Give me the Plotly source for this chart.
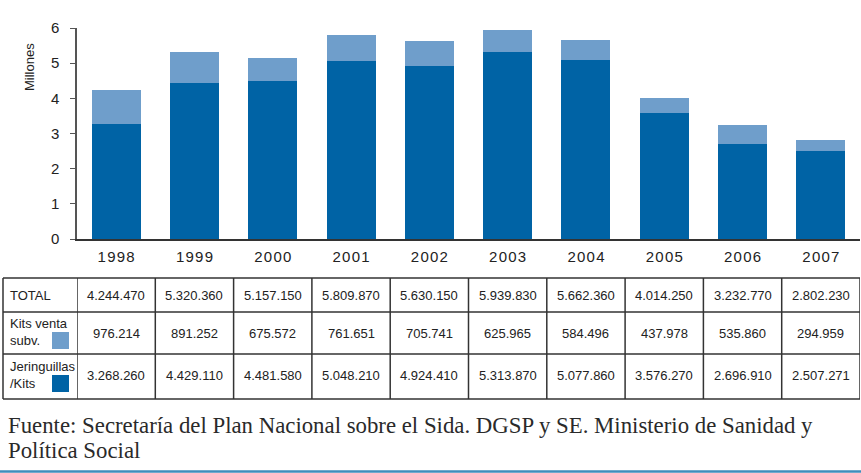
import plotly.graph_objects as go

# Distribución de jeringuillas / kits (millones) por año
years = ["1998", "1999", "2000", "2001", "2002", "2003", "2004", "2005", "2006", "2007"]
total = [4244470, 5320360, 5157150, 5809870, 5630150, 5939830, 5662360, 4014250, 3232770, 2802230]
kits_venta = [976214, 891252, 675572, 761651, 705741, 625965, 584496, 437978, 535860, 294959]
jeringuillas = [3268260, 4429110, 4481580, 5048210, 4924410, 5313870, 5077860, 3576270, 2696910, 2507271]

row_labels = ["TOTAL", "Kits venta<br>subv.", "Jeringuillas<br>/Kits"]
y_ticks = [0, 1, 2, 3, 4, 5, 6]
source_lines = ["Fuente: Secretaría del Plan Nacional sobre el Sida. DGSP y SE. Ministerio de Sanidad y",
                "Política Social"]

W, H = 861, 473
DARK = "#0063a5"
LIGHT = "#6f9ecb"
INK = "#222222"
SANS = "Liberation Sans, Arial, sans-serif"
SERIF = "Liberation Serif, Times New Roman, serif"


def px(x):
    return x / W


def py(y):
    return (H - y) / H


def es_num(v):
    return f"{v:,}".replace(",", ".")


def spaced(s):
    return "\u200a".join(s)


idx = list(range(len(years)))

fig = go.Figure()
fig.add_bar(x=idx, y=[v / 1e6 for v in jeringuillas], marker_color=DARK,
            marker_line_width=0, name="Jeringuillas/Kits")
fig.add_bar(x=idx, y=[v / 1e6 for v in kits_venta], marker_color=LIGHT,
            marker_line_width=0, name="Kits venta subv.")

fig.update_layout(
    width=W, height=H, barmode="stack", bargap=0.375, showlegend=False,
    margin=dict(l=0, r=0, t=0, b=0, autoexpand=False),
    paper_bgcolor="white", plot_bgcolor="white",
    font=dict(family=SANS, color=INK),
    xaxis=dict(domain=[px(77), px(860)], range=[-0.5, len(years) - 0.5], showgrid=False,
               zeroline=False, automargin=False,
               showline=True, linecolor="#333333", linewidth=2,
               tickvals=idx, ticktext=[spaced(y) for y in years],
               tickfont=dict(size=15, color=INK), ticks="", ticklabelstandoff=3),
    yaxis=dict(domain=[py(239), py(28)], range=[0, 6], showgrid=False, zeroline=False,
               automargin=False,
               showline=True, linecolor="#555555", linewidth=1.5,
               tickvals=y_ticks, ticks="outside", ticklen=5, tickcolor="#555555",
               tickfont=dict(size=15, color=INK), ticklabelstandoff=8),
)

annotations = []
shapes = []

# Etiqueta del eje Y
annotations.append(dict(text="Millones", xref="paper", yref="paper", x=px(29), y=py(67),
                        textangle=-90, showarrow=False, font=dict(size=13, color=INK),
                        xanchor="center", yanchor="middle"))

# Tabla de datos bajo el gráfico
row_edges = [278, 312, 354, 399]
line = dict(color="#333333", width=1.5)
for ye in row_edges:
    shapes.append(dict(type="line", xref="paper", yref="paper", x0=px(3), x1=px(860),
                       y0=py(ye), y1=py(ye), line=line))
shapes.append(dict(type="line", xref="paper", yref="paper", x0=px(3), x1=px(3),
                   y0=py(row_edges[0]), y1=py(row_edges[-1]), line=line))
for i in range(len(years) + 1):
    shapes.append(dict(type="line", xref="x", yref="paper", x0=i - 0.5, x1=i - 0.5,
                       y0=py(row_edges[0]), y1=py(row_edges[-1]), line=line))

rows = [total, kits_venta, jeringuillas]
row_centers = [295, 333, 375]
for vals, yc in zip(rows, row_centers):
    for i, v in zip(idx, vals):
        annotations.append(dict(text=es_num(v), xref="x", yref="paper", x=i, y=py(yc),
                                showarrow=False, font=dict(size=13, color=INK),
                                xanchor="center", yanchor="middle"))

label_centers = [295, 332, 375]
for lab, yc in zip(row_labels, label_centers):
    annotations.append(dict(text=lab, xref="paper", yref="paper", x=px(8), y=py(yc),
                            showarrow=False, align="left", font=dict(size=13, color=INK),
                            xanchor="left", yanchor="middle"))

# Cuadros de color de la leyenda dentro de la tabla
for color, (y0, y1) in [(LIGHT, (332, 349)), (DARK, (375, 392))]:
    shapes.append(dict(type="rect", xref="paper", yref="paper", x0=px(52), x1=px(69),
                       y0=py(y1), y1=py(y0), fillcolor=color, line=dict(width=0)))

# Fuente
for txt, yc in zip(source_lines, [425, 450]):
    annotations.append(dict(text=txt, xref="paper", yref="paper", x=px(6), y=py(yc),
                            showarrow=False, align="left",
                            font=dict(family=SERIF, size=22.8, color="#2a2a2a"),
                            xanchor="left", yanchor="middle"))

# Línea inferior
shapes.append(dict(type="line", xref="paper", yref="paper", x0=0, x1=1, y0=py(471.5), y1=py(471.5),
                   line=dict(color="#3f8dbb", width=2.5)))

fig.update_layout(annotations=annotations, shapes=shapes)
fig.write_html("out.html")
